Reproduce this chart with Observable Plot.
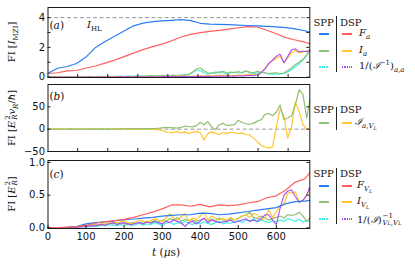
<!DOCTYPE html>
<html><head><meta charset="utf-8">
<script src="https://cdn.jsdelivr.net/npm/d3@7"></script>
<script src="https://cdn.jsdelivr.net/npm/@observablehq/plot@0.6"></script>
<style>
body{margin:0;background:#fff;}
#c{position:relative;width:415px;height:264px;overflow:hidden;font-family:"DejaVu Serif",serif;color:#111;}
.p{position:absolute;left:0;}
.t{position:absolute;white-space:nowrap;font-size:10px;line-height:10px;}
.sw{position:absolute;height:1.6px;width:10px;}
.vl{position:absolute;width:1px;background:#222;}
.ylab{position:absolute;white-space:nowrap;font-size:10px;line-height:10px;transform:translate(-50%,-50%) rotate(-90deg);}
sub,sup{font-size:70%;line-height:0;}
.ss{display:inline-flex;flex-direction:column;vertical-align:middle;font-size:70%;line-height:1;margin-left:1px;}
.ss sub{font-size:70%;vertical-align:baseline;}
</style></head><body><div id="c"></div>
<script>
// ---------- data ----------
const tA = [0,25,50,75,100,125,150,175,200,225,250,275,300,325,350,375,400,425,450,475,500,525,550,575,600,625,650,675,688];
const tN = [0,10,20,30,40,50,60,70,80,90,100,110,120,130,140,150,160,170,180,190,200,210,220,230,240,250,260,270,280,290,300,310,320,330,340,350,360,370,380,390,400,410,420,430,440,450,460,470,480,490,500,510,520,530,540,550,560,570,580,590,600,610,620,630,640,650,660,670,680,688];

// panel (a): FI [I_MZI]
const blueA = [0.27,0.6,0.72,0.92,1.35,2.0,2.4,2.75,3.1,3.45,3.63,3.73,3.78,3.82,3.87,3.8,3.62,3.56,3.55,3.53,3.5,3.47,3.44,3.41,3.38,3.33,3.25,3.12,3.03];
const redA = [0.25,0.3,0.42,0.45,0.62,0.75,0.95,1.15,1.38,1.62,1.85,2.05,2.22,2.45,2.7,2.88,2.99,3.08,3.14,3.23,3.32,3.4,3.37,3.15,2.92,2.66,2.5,2.35,2.25];
const greenA = [0.02,0.02,0.03,0.02,0.03,0.02,0.03,0.04,0.03,0.02,
 0.03,0.04,0.03,0.05,0.04,0.03,0.05,0.04,0.06,0.05,
 0.04,0.06,0.05,0.07,0.05,0.08,0.06,0.1,0.07,0.09,
 0.12,0.08,0.1,0.14,0.09,0.12,0.15,0.2,0.35,0.55,
 0.62,0.45,0.3,0.25,0.35,0.3,0.4,0.28,0.35,0.3,
 0.38,0.3,0.42,0.35,0.3,0.4,0.32,0.3,0.25,0.28,
 0.3,0.25,0.28,0.45,0.62,0.85,1.0,1.2,1.5,1.8];
const cyanA = [0.02,0.03,0.02,0.03,0.02,0.04,0.03,0.02,0.04,0.03,
 0.04,0.03,0.05,0.03,0.04,0.06,0.04,0.05,0.03,0.06,
 0.05,0.07,0.04,0.06,0.08,0.05,0.09,0.07,0.1,0.08,
 0.1,0.13,0.09,0.12,0.1,0.15,0.12,0.18,0.3,0.5,
 0.45,0.3,0.2,0.3,0.25,0.38,0.3,0.22,0.3,0.35,
 0.28,0.32,0.4,0.3,0.25,0.3,0.35,0.28,0.22,0.2,
 0.22,0.2,0.25,0.35,0.5,0.7,0.9,1.15,1.45,1.8];
const yellowA = [0.01,0.01,0.01,0.02,0.01,0.02,0.01,0.02,0.02,0.01,
 0.02,0.02,0.03,0.02,0.02,0.03,0.02,0.03,0.02,0.03,
 0.03,0.02,0.03,0.04,0.03,0.03,0.04,0.03,0.05,0.04,
 0.05,0.04,0.06,0.05,0.05,0.07,0.06,0.08,0.06,0.08,
 0.1,0.08,0.12,0.09,0.1,0.14,0.1,0.15,0.12,0.1,
 0.14,0.12,0.16,0.2,0.15,0.18,0.3,0.6,0.95,1.1,
 1.25,1.4,1.0,1.3,1.65,1.8,1.65,1.7,1.75,1.8];
const purpleA = [0.0,0.01,0.0,0.01,0.01,0.0,0.01,0.01,0.0,0.01,
 0.01,0.02,0.01,0.01,0.02,0.01,0.02,0.01,0.02,0.02,
 0.02,0.03,0.02,0.02,0.03,0.02,0.03,0.03,0.02,0.03,
 0.03,0.04,0.03,0.04,0.03,0.04,0.05,0.04,0.05,0.04,
 0.05,0.06,0.05,0.06,0.07,0.06,0.08,0.07,0.08,0.07,
 0.09,0.08,0.1,0.12,0.1,0.15,0.3,0.55,0.9,1.15,
 1.4,1.55,0.95,1.4,1.85,1.9,1.7,1.75,1.72,1.8];
const hlA = [4];

// panel (b): FI [E_R^2 v_R / hbar]
const greenB = [0,0,0,0,0,0,0.5,0,0,0.3,
 0,0.5,0.3,0,0.5,0.3,0.5,0,0.5,0.8,
 0.5,1,0.5,1,0.8,1.2,1,1.5,1,2,
 3,4,3.5,3,2.5,4,7,6,5,8,
 15,10,17,5,-1,10,13,8,9,10,
 20,15,12,11,13,18,21,33,35,30,
 38,54,21,25,30,55,88,78,25,65];
const yellowB = [0,0,0,0,0,0,0,0,0,0,
 0,0,0,0,0,0,0,0,-0.3,0,
 0,-0.3,0,-0.5,0,-0.5,0.5,0,-0.5,-1,
 -3,-6,-8,-7,-5,-9,-6,-10,-7,-5,
 -8,-24,-10,-6,-9,-12,-8,-10,-7,-8,
 -10,-9,-12,-13,-20,-28,-36,-40,-42,-40,
 5,45,30,-20,5,60,40,10,0,0];
const zeroB = [0];

// panel (c): FI [E_R^2]
const redC = [0,0.005,0.01,0.02,0.04,0.07,0.095,0.11,0.13,0.16,0.2,0.24,0.29,0.35,0.35,0.33,0.36,0.32,0.35,0.34,0.35,0.38,0.4,0.46,0.49,0.58,0.7,0.75,0.84];
const blueC = [0,0,0.005,0.02,0.06,0.08,0.09,0.105,0.125,0.135,0.15,0.16,0.18,0.19,0.2,0.2,0.225,0.22,0.2,0.21,0.23,0.25,0.27,0.29,0.31,0.37,0.4,0.41,0.42];
const yellowC = [0,0,0,0,0,0.005,0.01,0.01,0.02,0.02,
 0.03,0.03,0.04,0.05,0.05,0.06,0.08,0.1,0.07,0.09,
 0.11,0.08,0.06,0.09,0.12,0.1,0.08,0.11,0.14,0.12,
 0.1,0.15,0.22,0.14,0.12,0.17,0.22,0.1,0.15,0.13,
 0.18,0.23,0.12,0.18,0.15,0.12,0.14,0.12,0.16,0.12,
 0.14,0.18,0.2,0.16,0.22,0.2,0.12,0.15,0.28,0.16,
 0.25,0.33,0.36,0.53,0.54,0.55,0.4,0.42,0.5,0.6];
const purpleC = [0,0,0,0,0,0,0.005,0.01,0.01,0.02,
 0.02,0.03,0.03,0.04,0.05,0.04,0.06,0.08,0.05,0.07,
 0.08,0.06,0.05,0.07,0.08,0.06,0.09,0.07,0.1,0.08,
 0.06,0.1,0.08,0.12,0.1,0.08,0.02,0.08,0.1,0.06,
 0.1,0.15,0.08,0.12,0.1,0.08,0.09,0.1,0.12,0.08,
 0.1,0.12,0.14,0.1,0.12,0.1,0.14,0.2,0.2,0.12,
 0.05,0.3,0.5,0.56,0.58,0.48,0.39,0.42,0.5,0.63];
const greenC = [0,0,0,0,0.005,0.01,0.01,0.02,0.02,0.03,
 0.03,0.04,0.05,0.04,0.06,0.05,0.07,0.06,0.08,0.06,
 0.07,0.05,0.08,0.06,0.09,0.07,0.1,0.08,0.11,0.09,
 0.12,0.1,0.14,0.12,0.16,0.1,0.13,0.11,0.12,0.1,
 0.12,0.14,0.1,0.13,0.11,0.15,0.12,0.1,0.14,0.12,
 0.15,0.18,0.2,0.24,0.16,0.14,0.18,0.15,0.12,0.14,
 0.16,0.18,0.15,0.2,0.19,0.2,0.24,0.18,0.1,0.15];
const cyanC = [0,0,0,0,0,0,0.005,0.01,0.01,0.015,
 0.02,0.02,0.03,0.02,0.04,0.03,0.05,0.04,0.03,0.05,
 0.04,0.06,0.03,0.05,0.07,0.04,0.06,0.05,0.08,0.06,
 0.04,0.07,0.09,0.05,0.08,0.06,0.1,0.07,0.05,0.08,
 0.06,0.09,0.07,0.05,0.08,0.1,0.06,0.08,0.07,0.09,
 0.11,0.08,0.12,0.1,0.14,0.09,0.12,0.1,0.08,0.11,
 0.09,0.12,0.1,0.14,0.12,0.1,0.13,0.09,0.11,0.1];

// ticks
const xTicksTop = [78,157,236,315,394,473,552,631];
const xTicksBottom = [0,100,200,300,400,500,600];
const xTickLabels = ["0","100","200","300","400","500","600"];
const yTicksA = [0,2,4], yLabelsA = ["0","2","4"], yMinorA = [1,3];
const yTicksB = [-50,0,50], yLabelsB = ["\u221250","0","50"];
const yTicksC = [0,0.5,1.0], yLabelsC = ["0.0","0.5","1.0"];

// ---------- style ----------
const C = {blue:"#2b7ef2", red:"#ff5f5f", green:"#8fc171", yellow:"#ffc62e", cyan:"#3cf2e6", purple:"#a94cf5", grid:"#999"};
const ML = 47.5, MR = 105.7, W = 415;
const FW = W - ML - MR;
const rows = (t, v) => t.map((x, i) => ({t: x, v: v[i]}));
const ln = (t, v, stroke, extra = {}) => Plot.line(rows(t, v), {x: "t", y: "v", stroke, strokeWidth: 1.2, ...extra});

function panel({top, height, mt, mb, yDomain, yTicks, yLabels, yMinor = [], xTicks, xLabels, marks}) {
  const FH = height - mt - mb;
  const lab = new Map(yTicks.map((d, i) => [d, yLabels[i]]));
  const allY = yTicks.concat(yMinor);
  const m = [
    ...marks,
    Plot.tickY(allY, {y: d => d, stroke: "#222", insetRight: FW - 3}),
    Plot.tickY(allY, {y: d => d, stroke: "#222", insetLeft: FW - 3}),
    Plot.tickX(xTicks, {x: d => d, stroke: "#222", insetTop: FH - 3}),
    Plot.axisY(yTicks, {anchor: "left", tickSize: 0, tickPadding: 3, fontSize: 10, label: null, tickFormat: d => lab.get(d)}),
    Plot.frame({stroke: "#1a1a1a", strokeWidth: 1})
  ];
  if (xLabels) {
    const xl = new Map(xTicks.map((d, i) => [d, xLabels[i]]));
    m.push(Plot.axisX(xTicks, {anchor: "bottom", tickSize: 0, tickPadding: 4, fontSize: 10, label: null, tickFormat: d => xl.get(d)}));
  }
  const svg = Plot.plot({
    width: W, height, marginLeft: ML, marginRight: MR, marginTop: mt, marginBottom: mb,
    x: {domain: [0, 688], axis: null},
    y: {domain: yDomain, axis: null},
    style: {fontFamily: "DejaVu Sans", fontSize: "10px", color: "#111", background: "transparent", overflow: "visible"},
    marks: m
  });
  svg.classList.add("p");
  svg.style.top = top + "px";
  return svg;
}

const root = document.getElementById("c");
const dotted = {strokeDasharray: "1.3,1"};
const dashedC = {strokeDasharray: "2.5,0.8"};

root.appendChild(panel({
  top: 0, height: 80, mt: 7, mb: 3, yDomain: [-0.02, 4.68],
  yTicks: yTicksA, yLabels: yLabelsA, yMinor: yMinorA, xTicks: xTicksTop,
  marks: [
    Plot.ruleY(hlA, {y: d => d, stroke: C.grid, strokeDasharray: "4,2.5", strokeWidth: 1}),
    ln(tN, cyanA, C.cyan, dashedC),
    ln(tN, greenA, C.green),
    ln(tN, yellowA, C.yellow),
    ln(tN, purpleA, C.purple, dotted),
    ln(tA, redA, C.red),
    ln(tA, blueA, C.blue)
  ]
}));
root.appendChild(panel({
  top: 80, height: 75, mt: 4, mb: 4, yDomain: [-50, 100],
  yTicks: yTicksB, yLabels: yLabelsB, xTicks: xTicksTop,
  marks: [
    Plot.ruleY(zeroB, {y: d => d, stroke: C.grid, strokeDasharray: "4,2.5", strokeWidth: 1}),
    ln(tN, yellowB, C.yellow),
    ln(tN, greenB, C.green)
  ]
}));
root.appendChild(panel({
  top: 155, height: 109, mt: 5, mb: 36, yDomain: [-0.01, 1.03],
  yTicks: yTicksC, yLabels: yLabelsC, xTicks: xTicksBottom, xLabels: xTickLabels,
  marks: [
    ln(tN, cyanC, C.cyan, dashedC),
    ln(tN, greenC, C.green),
    ln(tN, yellowC, C.yellow),
    ln(tN, purpleC, C.purple, dotted),
    ln(tA, blueC, C.blue),
    ln(tA, redC, C.red)
  ]
}));

// ---------- text overlays ----------
function txt(html, left, top, cls = "t", size) {
  const d = document.createElement("div");
  d.className = cls;
  d.style.left = left + "px";
  d.style.top = top + "px";
  if (size) d.style.fontSize = size + "px";
  d.innerHTML = html;
  root.appendChild(d);
}
function sw(color, left, top, kind) {
  const d = document.createElement("div");
  d.className = "sw";
  d.style.left = left + "px";
  d.style.top = top + "px";
  if (kind === "dashed") d.style.background = `repeating-linear-gradient(90deg, ${color} 0 2.5px, transparent 2.5px 3.5px)`;
  else if (kind === "dotted") d.style.background = `repeating-linear-gradient(90deg, ${color} 0 1.3px, transparent 1.3px 2.3px)`;
  else d.style.background = color;
  root.appendChild(d);
}
function vl(left, top, h) {
  const d = document.createElement("div");
  d.className = "vl";
  d.style.left = left + "px";
  d.style.top = top + "px";
  d.style.height = h + "px";
  root.appendChild(d);
}
const ss = (sup, sub) => `<span class="ss"><span>${sup}</span><span>${sub}</span></span>`;

// panel tags
txt("(<i>a</i>)", 49.5, 20, "t", 10.5);
txt("(<i>b</i>)", 49.5, 91, "t", 10.5);
txt("(<i>c</i>)", 49.5, 168.5, "t", 10.5);
txt("<i>I</i><sub>HL</sub>", 87, 20, "t", 10);

// y labels
txt("FI [<i>I</i><sub>MZI</sub>]", 12, 42, "ylab");
txt("FI [<i>E</i>" + ss("2", "<i>R</i>") + "<i>v</i><sub><i>R</i></sub>/<i>ħ</i>]", 12, 118, "ylab");
txt("FI [<i>E</i>" + ss("2", "<i>R</i>") + "]", 12, 194, "ylab");

// x label
txt("<i>t</i> (<i>μ</i>s)", 152, 247, "t", 10.5);

// legends
function legend(y0, lineTop, lineH, rowsL, labX) {
  txt("SPP", 313.5, y0 - 6);
  txt("DSP", 340, y0 - 6);
  vl(336, lineTop, lineH);
  rowsL.forEach(r => {
    sw(r.spp, 319, r.y, r.sppDash);
    sw(r.dsp, 342, r.y, r.dspDash);
    txt(r.label, labX, r.y - 5);
  });
}
legend(24, 16, 56, [
  {y: 33, spp: C.blue, dsp: C.red, label: "<i>F<sub>a</sub></i>"},
  {y: 50, spp: C.green, dsp: C.yellow, label: "<i>I<sub>a</sub></i>"},
  {y: 66, spp: C.cyan, dsp: C.purple, sppDash: "dashed", dspDash: "dotted", label: "1/(<i>ℐ</i><sup>−1</sup>)<sub><i>a</i>,<i>a</i></sub>"}
], 359);
legend(111, 107, 23, [
  {y: 122, spp: C.green, dsp: C.yellow, label: "<i>ℐ</i><sub><i>a</i>,<i>V<sub>L</sub></i></sub>"}
], 355);
legend(175, 168, 56, [
  {y: 185, spp: C.blue, dsp: C.red, label: "<i>F</i><sub><i>V<sub>L</sub></i></sub>"},
  {y: 201, spp: C.green, dsp: C.yellow, label: "<i>I</i><sub><i>V<sub>L</sub></i></sub>"},
  {y: 218, spp: C.cyan, dsp: C.purple, sppDash: "dashed", dspDash: "dotted", label: "1/(<i>ℐ</i>)" + ss("−1", "<i>V<sub>L</sub></i>,<i>V<sub>L</sub></i>")}
], 357);
</script></body></html>
